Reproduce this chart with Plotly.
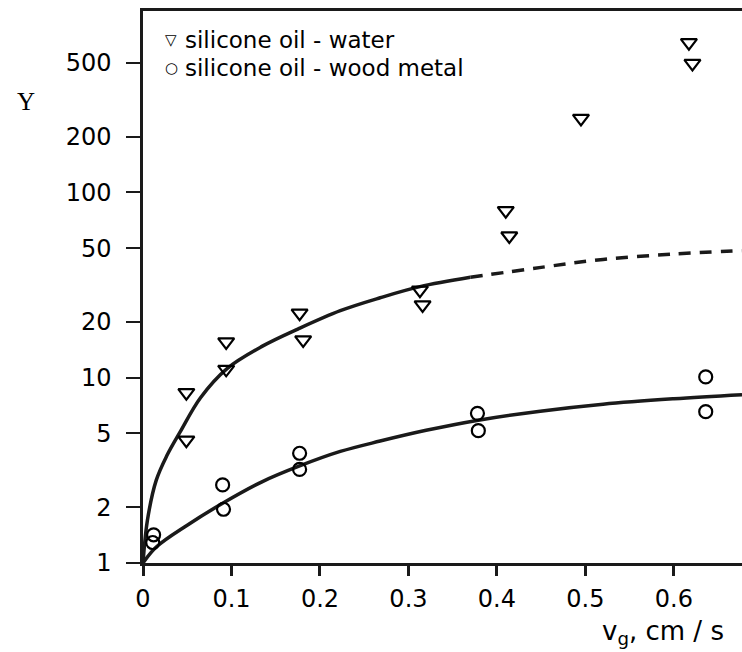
import plotly.graph_objects as go

# Measured points: silicone oil - water (open down-triangles)
water_x = [0.049, 0.049, 0.094, 0.094, 0.177, 0.181, 0.313, 0.316, 0.410, 0.414, 0.495, 0.617, 0.621]
water_y = [8.3, 4.6, 15.6, 11.1, 22.3, 16.0, 29.7, 24.7, 79.7, 58.2, 251, 643, 497]

# Measured points: silicone oil - wood metal (open circles)
wood_x = [0.012, 0.011, 0.090, 0.091, 0.177, 0.177, 0.378, 0.379, 0.636, 0.636]
wood_y = [1.42, 1.29, 2.64, 1.95, 3.91, 3.20, 6.42, 5.18, 10.1, 6.56]

# Correlation curve for water (solid part) and its extrapolation (dashed)
water_fit_x = [0, 0.005, 0.015, 0.027, 0.042, 0.065, 0.095, 0.135, 0.175, 0.223, 0.268, 0.313, 0.37]
water_fit_y = [1.0, 1.7, 2.8, 3.8, 5.1, 7.8, 11.2, 14.8, 18.3, 23.0, 27.0, 31.0, 34.8]
water_ext_x = [0.37, 0.45, 0.52, 0.60, 0.677]
water_ext_y = [34.8, 39.4, 43.5, 46.5, 48.5]

# Correlation curve for wood metal
wood_fit_x = [0, 0.015, 0.05, 0.09, 0.135, 0.177, 0.223, 0.268, 0.32, 0.379, 0.449, 0.52, 0.60, 0.677]
wood_fit_y = [1.0, 1.22, 1.6, 2.1, 2.75, 3.34, 4.0, 4.55, 5.2, 5.9, 6.6, 7.2, 7.7, 8.1]

x_ticks = [0, 0.1, 0.2, 0.3, 0.4, 0.5, 0.6]
x_tick_text = ["0", "0.1", "0.2", "0.3", "0.4", "0.5", "0.6"]
y_ticks = [1, 2, 5, 10, 20, 50, 100, 200, 500]
y_tick_text = ["1", "2", "5", "10", "20", "50", "100", "200", "500"]

INK = "#1a1a1a"
SANS = "DejaVu Sans"

fig = go.Figure()

fig.add_trace(go.Scatter(
    x=water_fit_x, y=water_fit_y, mode="lines", line_shape="spline",
    line=dict(color=INK, width=3.5), showlegend=False, hoverinfo="skip"))
fig.add_trace(go.Scatter(
    x=water_ext_x, y=water_ext_y, mode="lines", line_shape="spline",
    line=dict(color=INK, width=3.5, dash="12px,9px"), showlegend=False, hoverinfo="skip"))
fig.add_trace(go.Scatter(
    x=wood_fit_x, y=wood_fit_y, mode="lines", line_shape="spline",
    line=dict(color=INK, width=3.5), showlegend=False, hoverinfo="skip"))

fig.add_trace(go.Scatter(
    x=water_x, y=water_y, mode="markers", name="silicone oil - water",
    marker=dict(symbol="triangle-down-open", size=14, color="black", line=dict(width=2.2)),
    showlegend=False))
fig.add_trace(go.Scatter(
    x=wood_x, y=wood_y, mode="markers", name="silicone oil - wood metal",
    marker=dict(symbol="circle-open", size=13, color="black", line=dict(width=2.2)),
    showlegend=False))

# Legend drawn as text rows inside the plot area
legend_rows = [("▽", "silicone oil - water", 40), ("○", "silicone oil - wood metal", 68)]
annotations = []
for sym, label, ypx in legend_rows:
    yp = 1 - (ypx - 11) / 552
    annotations.append(dict(xref="paper", yref="paper", x=(171 - 143) / 599, y=yp,
                            text=sym, showarrow=False, xanchor="center", yanchor="middle",
                            font=dict(family=SANS, size=15, color="black")))
    annotations.append(dict(xref="paper", yref="paper", x=(183 - 143) / 599, y=yp,
                            text=label, showarrow=False, xanchor="left", yanchor="middle",
                            font=dict(family=SANS, size=23, color="black")))

# Axis titles
annotations.append(dict(xref="paper", yref="paper", x=(26 - 143) / 599, y=1 - (102 - 11) / 552,
                        text="Y", showarrow=False, xanchor="center", yanchor="middle",
                        font=dict(family="Liberation Serif", size=25, color="black")))
annotations.append(dict(xref="paper", yref="paper", x=(726 - 143) / 599, y=1 - (632 - 11) / 552,
                        text="v<sub>g</sub>, cm / s", showarrow=False, xanchor="right",
                        yanchor="middle", font=dict(family=SANS, size=26, color="black")))

fig.update_layout(
    width=742, height=652,
    margin=dict(l=143, r=0, t=11, b=89),
    paper_bgcolor="white", plot_bgcolor="white",
    showlegend=False,
    annotations=annotations,
    xaxis=dict(
        range=[0, 0.677], tickvals=x_ticks, ticktext=x_tick_text,
        showgrid=False, zeroline=False,
        showline=True, linecolor=INK, linewidth=2.5, mirror=True,
        ticks="outside", ticklen=10, tickwidth=2.5, tickcolor=INK,
        ticklabelstandoff=2,
        tickfont=dict(family=SANS, size=24, color="black"),
    ),
    yaxis=dict(
        type="log", range=[0, 2.979], tickvals=y_ticks, ticktext=y_tick_text,
        showgrid=False, zeroline=False,
        showline=True, linecolor=INK, linewidth=2.5,
        ticks="outside", ticklen=14, tickwidth=2, tickcolor=INK,
        ticklabelstandoff=10,
        tickfont=dict(family=SANS, size=24, color="black"),
    ),
)

fig.write_html("out.html")
